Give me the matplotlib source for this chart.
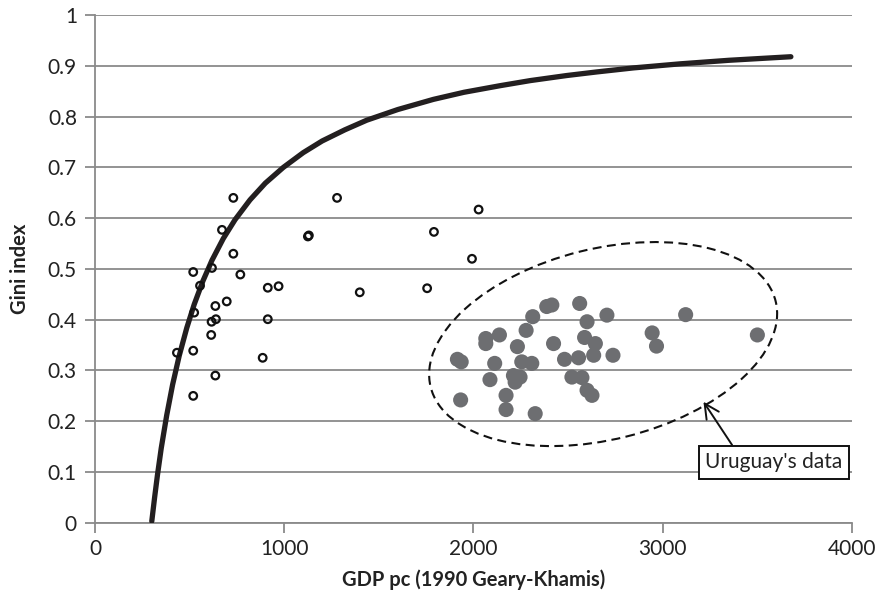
import matplotlib
matplotlib.use("Agg")
import matplotlib.pyplot as plt
from matplotlib.patches import Ellipse
from matplotlib.transforms import ScaledTranslation

plt.rcParams['font.family'] = ['Lato', 'DejaVu Sans']

# Other countries (open circles)
other_gdp = [731, 671, 731, 519, 618, 768, 555, 913, 970, 696, 636, 524, 616, 639,
             913, 614, 433, 519, 886, 636, 519, 1279, 2027, 1125, 1130, 1791, 1992,
             1399, 1755]
other_gini = [0.640, 0.577, 0.530, 0.494, 0.502, 0.489, 0.467, 0.463, 0.466, 0.436,
              0.427, 0.414, 0.396, 0.401, 0.401, 0.370, 0.335, 0.339, 0.325, 0.290,
              0.250, 0.640, 0.617, 0.564, 0.566, 0.573, 0.520, 0.454, 0.462]

# Uruguay (filled gray circles)
uru_gdp = [1915, 1935, 1932, 2065, 2065, 2137, 2112, 2087, 2172, 2172, 2232, 2278,
           2313, 2387, 2414, 2561, 2600, 2705, 2423, 2255, 2308, 2211, 2246, 2220,
           2326, 2481, 2555, 2587, 2644, 2635, 2737, 2520, 2573, 2600, 2626, 3121,
           2944, 2967, 3500]
uru_gini = [0.322, 0.317, 0.242, 0.363, 0.353, 0.370, 0.314, 0.282, 0.251, 0.223,
            0.347, 0.379, 0.406, 0.426, 0.429, 0.432, 0.396, 0.409, 0.353, 0.317,
            0.314, 0.290, 0.287, 0.277, 0.215, 0.322, 0.325, 0.365, 0.353, 0.330,
            0.330, 0.287, 0.286, 0.261, 0.251, 0.410, 0.374, 0.348, 0.370]

# Inequality possibility frontier
ipf_gdp = [300, 315, 330, 350, 379, 410, 445, 485, 524, 570, 618, 678, 740, 819,
           900, 995, 1100, 1200, 1320, 1436, 1600, 1788, 1950, 2141, 2300, 2493,
           2650, 2845, 3092, 3350, 3677]
ipf_gini = [0.003, 0.050, 0.094, 0.147, 0.212, 0.272, 0.329, 0.384, 0.430, 0.476,
            0.517, 0.560, 0.597, 0.636, 0.669, 0.700, 0.729, 0.752, 0.774, 0.793,
            0.814, 0.834, 0.848, 0.861, 0.871, 0.881, 0.888, 0.896, 0.904, 0.911,
            0.918]

xticks = [0, 1000, 2000, 3000, 4000]
yticks = [0, 0.1, 0.2, 0.3, 0.4, 0.5, 0.6, 0.7, 0.8, 0.9, 1]
ytick_labels = ['0', '0.1', '0.2', '0.3', '0.4', '0.5', '0.6', '0.7', '0.8', '0.9', '1']

fig = plt.figure(figsize=(8.78, 6.06), dpi=100)
ax = fig.add_axes([95 / 878, (606 - 522.8) / 606, 757 / 878, 507.7 / 606])

grid_c = '#8a8a8a'
ax.set_xlim(0, 4000)
ax.set_ylim(0, 1)
ax.set_xticks(xticks)
ax.set_xticklabels([str(v) for v in xticks])
ax.set_yticks(yticks)
ax.set_yticklabels(ytick_labels)
ax.yaxis.grid(True, color=grid_c, linewidth=1.3)
ax.set_axisbelow(True)
for s in ['top', 'right']:
    ax.spines[s].set_visible(False)
for s in ['left', 'bottom']:
    ax.spines[s].set_color(grid_c)
    ax.spines[s].set_linewidth(1.3)
ax.tick_params(axis='both', colors=grid_c, length=7, width=1.3, labelsize=15,
               labelcolor='#222222')
ax.tick_params(axis='y', pad=6)
ax.tick_params(axis='x', pad=5)

ax.plot(ipf_gdp, ipf_gini, color='#231f20', linewidth=3.8, solid_capstyle='round',
        solid_joinstyle='round', zorder=3)
ax.scatter(other_gdp, other_gini, s=30, facecolors='none', edgecolors='#111111',
           linewidths=1.6, zorder=4)
ax.scatter(uru_gdp, uru_gini, s=118, color='#6d6e71', edgecolors='none', zorder=4)

# dashed ellipse around Uruguay's data (size in inches, centred in data coords)
ell = Ellipse((0, 0), 3.555, 1.907, angle=14, fill=False, edgecolor='#111111',
              linewidth=1.5, linestyle=(0, (4.3, 2.6)),
              transform=fig.dpi_scale_trans + ScaledTranslation(2685, 0.352, ax.transData),
              zorder=5)
ax.add_patch(ell)

ax.annotate("Uruguay's data", xy=(3215, 0.2385), xytext=(3588, 0.119),
            ha='center', va='center', fontsize=15, color='#222222',
            bbox=dict(boxstyle='square,pad=0.32', fc='white', ec='#111111', lw=1.4),
            arrowprops=dict(arrowstyle='->,head_length=0.7,head_width=0.35',
                            color='#111111', lw=1.4, relpos=(0.23, 1.0),
                            shrinkA=0, shrinkB=0),
            zorder=6)

ax.set_xlabel('GDP pc (1990 Geary-Khamis)', fontsize=14.5, fontweight='bold',
              color='#222222', labelpad=7)
ax.set_ylabel('Gini index', fontsize=14.5, fontweight='bold', color='#222222',
              labelpad=13)

fig.savefig('out.png', dpi=100)
